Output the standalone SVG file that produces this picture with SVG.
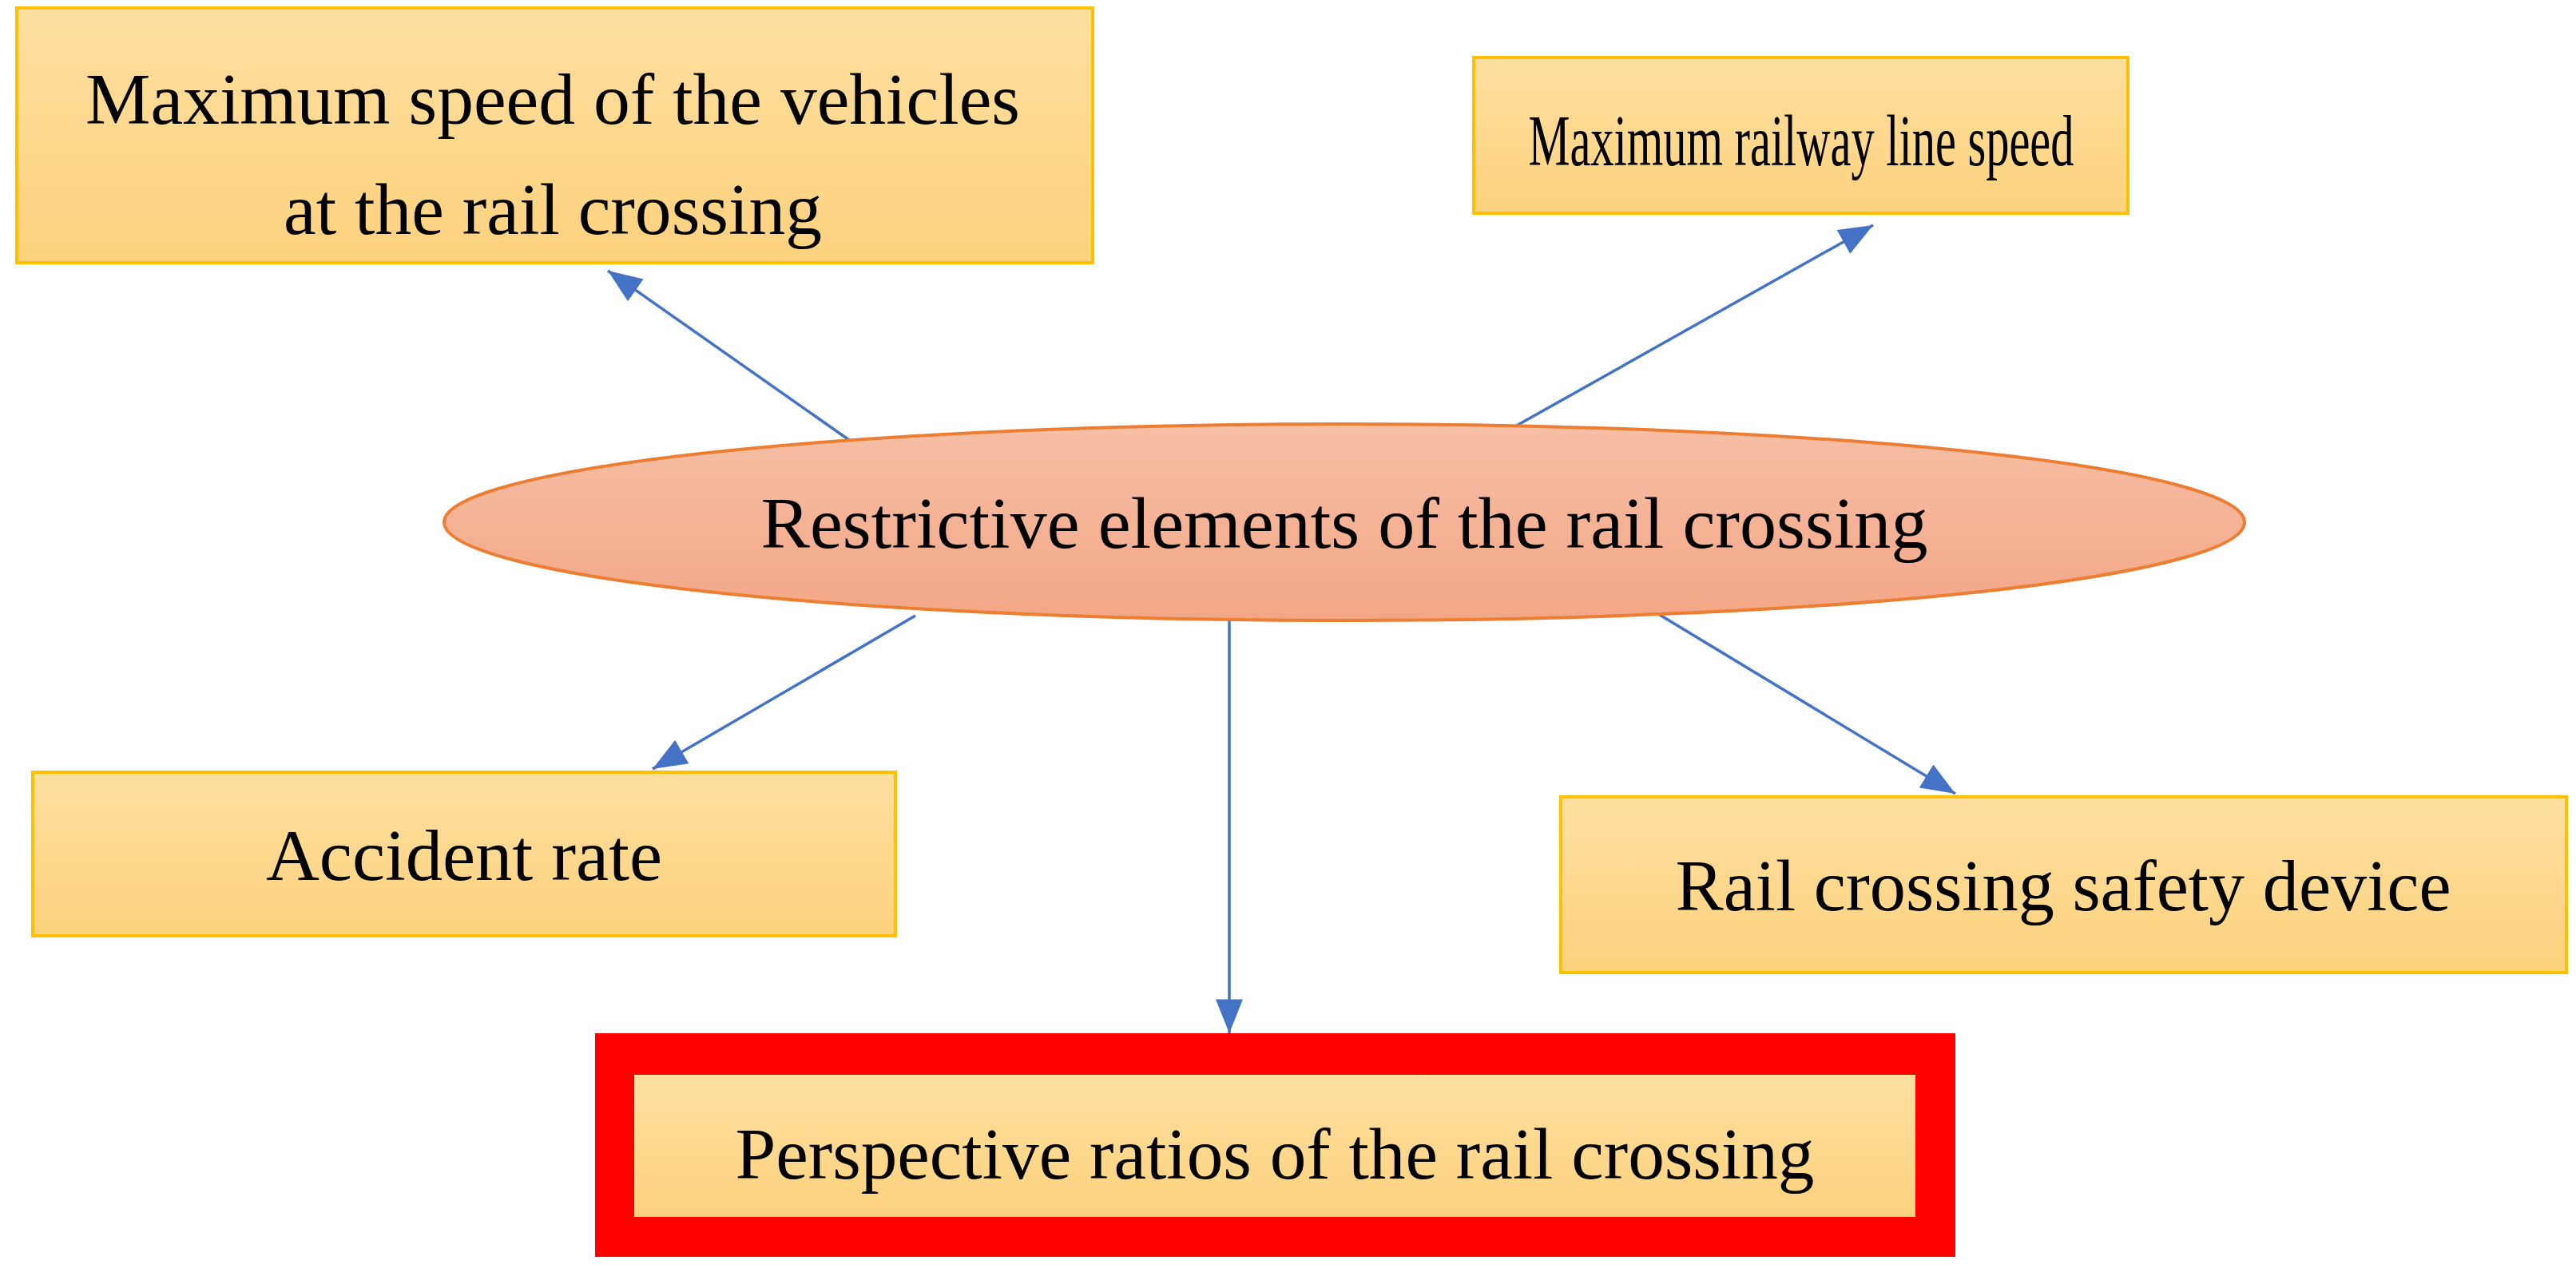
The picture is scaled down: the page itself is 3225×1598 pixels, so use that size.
<svg xmlns="http://www.w3.org/2000/svg" width="3225" height="1598" viewBox="0 0 3225 1598">
<style>
.box{fill:url(#gy);stroke:#FFC000;stroke-width:4}
.t{font-family:"Liberation Serif",serif;font-size:90px;fill:#000;text-anchor:middle}
</style>
<defs>
<linearGradient id="gy" x1="0" y1="0" x2="0" y2="1"><stop offset="0" stop-color="#FEDFA0"/><stop offset="1" stop-color="#FDD27E"/></linearGradient>
<linearGradient id="go" x1="0" y1="0" x2="0" y2="1"><stop offset="0" stop-color="#F6BFA6"/><stop offset="1" stop-color="#F3A686"/></linearGradient>
<marker id="ah2" viewBox="0 0 10 8" refX="10" refY="4" markerWidth="44" markerHeight="34" orient="auto" markerUnits="userSpaceOnUse"><path d="M0,0 L10,4 L0,8 Z" fill="#4472C4"/></marker>
</defs>
<rect width="3225" height="1598" fill="#fff"/>
<g id="connectors" stroke="#4472C4" stroke-width="3.5" fill="none" marker-end="url(#ah2)">
<line x1="1063" y1="551" x2="761" y2="339"/>
<line x1="1888" y1="539" x2="2345" y2="282"/>
<line x1="1146" y1="771" x2="817" y2="963"/>
<line x1="1539" y1="771" x2="1539" y2="1294"/>
<line x1="2063" y1="761" x2="2448" y2="994"/>
</g>
<g id="n1"><rect class="box" x="21" y="10" width="1347" height="319"/>
<text class="t" x="692" y="155" textLength="1170" lengthAdjust="spacingAndGlyphs">Maximum speed of the vehicles</text>
<text class="t" x="692" y="293" textLength="674" lengthAdjust="spacingAndGlyphs">at the rail crossing</text></g>
<g id="n2"><rect class="box" x="1845" y="72" width="819" height="195"/>
<text class="t" x="2255" y="207" textLength="683" lengthAdjust="spacingAndGlyphs">Maximum railway line speed</text></g>
<g id="n0"><ellipse cx="1683" cy="654" rx="1127" ry="123" fill="url(#go)" stroke="#ED7D31" stroke-width="4"/>
<text class="t" x="1683" y="686" textLength="1461" lengthAdjust="spacingAndGlyphs">Restrictive elements of the rail crossing</text></g>
<g id="n3"><rect class="box" x="41" y="967" width="1080" height="205"/>
<text class="t" x="581" y="1102" textLength="496" lengthAdjust="spacingAndGlyphs">Accident rate</text></g>
<g id="n4"><rect class="box" x="1954" y="998" width="1259" height="220"/>
<text class="t" x="2583" y="1140" textLength="971" lengthAdjust="spacingAndGlyphs">Rail crossing safety device</text></g>
<g id="n5"><rect x="745" y="1294" width="1703" height="280" fill="#FF0000"/>
<rect x="794" y="1346" width="1604" height="178" fill="url(#gy)"/>
<text class="t" x="1596" y="1476" textLength="1351" lengthAdjust="spacingAndGlyphs">Perspective ratios of the rail crossing</text></g>
</svg>
